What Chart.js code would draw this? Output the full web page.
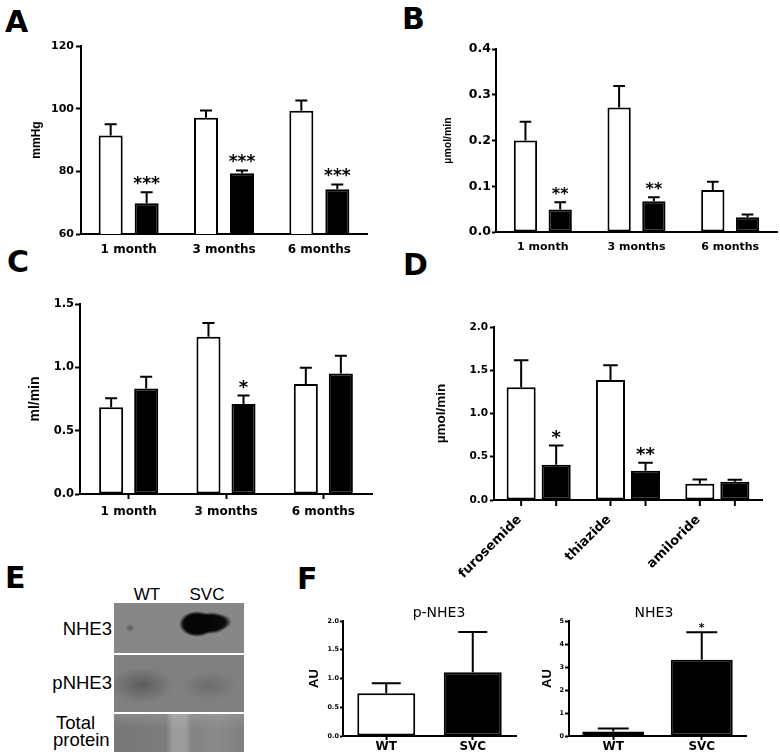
<!DOCTYPE html>
<html>
<head>
<meta charset="utf-8">
<script src="https://cdn.jsdelivr.net/npm/chart.js@4.4.1/dist/chart.umd.min.js"></script>
<style>
body{margin:0;background:#fff;}
#fig{position:relative;width:780px;height:756px;overflow:hidden;}
canvas{position:absolute;}
.letter{position:absolute;font:bold 30px "DejaVu Sans";line-height:30px;color:#000;}
.lbl{position:absolute;font:18.5px "Liberation Sans";line-height:18.5px;color:#000;white-space:nowrap;}
.lane{position:absolute;font:17px "Liberation Sans";line-height:17px;width:60px;text-align:center;}
.ftitle{position:absolute;font:14px "DejaVu Sans";line-height:14px;width:120px;text-align:center;}
.strip{position:absolute;left:114px;width:130px;}
</style>
</head>
<body>
<div id="fig">
  <div class="letter" style="left:5px;top:7px">A</div>
  <div class="letter" style="left:402px;top:4px">B</div>
  <div class="letter" style="left:7px;top:247px">C</div>
  <div class="letter" style="left:403px;top:250px">D</div>
  <div class="letter" style="left:5px;top:563px">E</div>
  <div class="letter" style="left:297px;top:564px">F</div>

  <canvas id="chartA" width="380" height="270" style="left:0;top:0"></canvas>
  <canvas id="chartB" width="390" height="270" style="left:390px;top:0"></canvas>
  <canvas id="chartC" width="385" height="270" style="left:0;top:260px"></canvas>
  <canvas id="chartD" width="390" height="330" style="left:390px;top:260px"></canvas>
  <canvas id="chartF1" width="225" height="161" style="left:300px;top:595px"></canvas>
  <canvas id="chartF2" width="250" height="161" style="left:530px;top:595px"></canvas>

  <!-- western blot (E) -->
  <div class="lane" style="left:117px;top:586px">WT</div>
  <div class="lane" style="left:177px;top:586px">SVC</div>
  <div class="lbl" style="left:0;width:112px;text-align:right;top:620px">NHE3</div>
  <div class="lbl" style="left:0;width:112px;text-align:right;top:674px">pNHE3</div>
  <div class="lbl" style="left:56px;top:714px">Total</div>
  <div class="lbl" style="left:53px;top:731px">protein</div>
  <div class="strip" style="top:603px;height:50px;background:
    radial-gradient(ellipse 18px 13px at 83px 21px, #050505 75%, rgba(5,5,5,0) 100%),
    radial-gradient(ellipse 17px 11px at 97px 20px, #080808 70%, rgba(8,8,8,0) 100%),
    radial-gradient(ellipse 12px 8px at 106px 19px, #1a1a1a 50%, rgba(26,26,26,0) 100%),
    radial-gradient(ellipse 5px 4px at 16px 25px, rgba(55,55,55,.6), rgba(55,55,55,0)),
    #878787;"></div>
  <div class="strip" style="top:655px;height:57px;background:
    radial-gradient(ellipse 32px 18px at 28px 30px, rgba(50,50,50,.45), rgba(50,50,50,0)),
    radial-gradient(ellipse 28px 14px at 95px 31px, rgba(60,60,60,.3), rgba(60,60,60,0)),
    #808080;"></div>
  <div class="strip" style="top:714px;height:38px;background:
    linear-gradient(to bottom, rgba(255,255,255,.12), rgba(255,255,255,0) 40%),
    linear-gradient(to right, #767676 0, #7c7c7c 40%, #9c9c9c 45%, #9c9c9c 55%, #838383 60%, #8a8a8a 80%, #7e7e7e 100%);"></div>
</div>

<script>
// A: blood pressure by age
const monthLabels = ['1 month', '3 months', '6 months'];
const pressureTicks = ['60', '80', '100', '120'];
const pressureWT = [91.4, 97.1, 99.3];
const pressureWTerr = [3.6, 2.3, 3.3];
const pressureSVC = [69.8, 79.4, 74.3];
const pressureSVCerr = [3.5, 0.9, 1.5];
const pressureStars = ['***', '***', '***'];

// B
const sodiumTicks = ['0.0', '0.1', '0.2', '0.3', '0.4'];
const sodiumWT = [0.200, 0.272, 0.092];
const sodiumWTerr = [0.041, 0.047, 0.018];
const sodiumSVC = [0.049, 0.067, 0.032];
const sodiumSVCerr = [0.016, 0.009, 0.006];
const sodiumStars = ['**', '**', ''];

// C
const flowTicks = ['0.0', '0.5', '1.0', '1.5'];
const flowWT = [0.685, 1.242, 0.869];
const flowWTerr = [0.071, 0.108, 0.127];
const flowSVC = [0.832, 0.711, 0.951];
const flowSVCerr = [0.093, 0.066, 0.140];
const flowStars = ['', '*', ''];

// D
const diureticLabels = ['furosemide', 'thiazide', 'amiloride'];
const diureticTicks = ['0.0', '0.5', '1.0', '1.5', '2.0'];
const diureticWT = [1.304, 1.388, 0.188];
const diureticWTerr = [0.311, 0.169, 0.050];
const diureticSVC = [0.407, 0.338, 0.211];
const diureticSVCerr = [0.223, 0.092, 0.023];
const diureticStars = ['*', '**', ''];

// F
const groupLabels = ['WT', 'SVC'];
const pNheTicks = ['0.0', '0.5', '1.0', '1.5', '2.0'];
const pNhe = [0.742, 1.108];
const pNheErr = [0.174, 0.702];
const pNheStars = ['', ''];
const nheTicks = ['0', '1', '2', '3', '4', '5'];
const nhe = [0.20, 3.32];
const nheErr = [0.13, 1.19];
const nheStars = ['', '*'];

const BOLD = 'bold';

// upper SEM bars, stars and (optional) tick marks under each bar
const errorBars = {
  id: 'errorBars',
  afterDatasetsDraw(chart, args, opts) {
    const ctx = chart.ctx;
    const y = chart.scales.y;
    ctx.save();
    ctx.strokeStyle = '#000';
    ctx.fillStyle = '#000';
    ctx.lineWidth = 2;
    chart.data.datasets.forEach((ds, i) => {
      chart.getDatasetMeta(i).data.forEach((bar, j) => {
        const top = y.getPixelForValue(ds.data[j] + ds.errors[j]);
        const half = bar.width / 4;
        ctx.beginPath();
        ctx.moveTo(bar.x, bar.y);
        ctx.lineTo(bar.x, top);
        ctx.moveTo(bar.x - half, top);
        ctx.lineTo(bar.x + half, top);
        ctx.stroke();
        if (opts.barTicks) {
          ctx.beginPath();
          ctx.moveTo(bar.x, chart.chartArea.bottom);
          ctx.lineTo(bar.x, chart.chartArea.bottom + opts.barTicks);
          ctx.stroke();
        }
        if (ds.stars && ds.stars[j]) {
          ctx.font = 'bold ' + opts.starSize + 'px "DejaVu Sans"';
          ctx.textAlign = 'center';
          ctx.textBaseline = 'alphabetic';
          ctx.fillText(ds.stars[j], bar.x, top - opts.starGap);
        }
      });
    });
    ctx.restore();
  }
};

function pair(wt, wtErr, svc, svcErr, stars, cp, bp) {
  const base = {borderColor: '#000', borderWidth: 2, borderSkipped: false, categoryPercentage: cp, barPercentage: bp};
  return [
    Object.assign({label: 'WT', data: wt, errors: wtErr, backgroundColor: '#fff'}, base),
    Object.assign({label: 'SVC', data: svc, errors: svcErr, stars: stars, backgroundColor: '#000'}, base)
  ];
}

function barChart(id, c) {
  const yt = c.yTicks;
  return new Chart(document.getElementById(id), {
    type: 'bar',
    data: {labels: c.labels, datasets: c.datasets},
    plugins: [errorBars],
    options: {
      responsive: false,
      animation: false,
      layout: {padding: {top: c.padTop, right: c.padRight, left: 0, bottom: 0}},
      plugins: {
        legend: {display: false},
        tooltip: {enabled: false},
        errorBars: {starSize: c.starSize, starGap: c.starGap, barTicks: c.barTicks || 0}
      },
      scales: {
        x: {
          afterFit: s => { s.height = c.xHeight; },
          border: {display: true, color: '#000', width: 2},
          grid: {display: true, drawOnChartArea: false, offset: false, drawTicks: c.xTick > 0,
                 tickLength: c.xTick, tickWidth: 2, tickColor: '#000'},
          ticks: {color: '#000', padding: c.xPad, autoSkip: false,
                  maxRotation: c.xRot || 0, minRotation: c.xRot || 0, labelOffset: c.xOffset || 0,
                  font: {family: 'DejaVu Sans', weight: BOLD, size: c.xSize}}
        },
        y: {
          min: parseFloat(yt[0]),
          max: parseFloat(yt[yt.length - 1]),
          afterBuildTicks: s => { s.ticks = yt.map(t => ({value: parseFloat(t)})); },
          afterFit: s => { s.width = c.yWidth; },
          border: {display: true, color: '#000', width: 2},
          grid: {drawOnChartArea: false, drawTicks: true, tickLength: c.yTick, tickWidth: 2, tickColor: '#000'},
          ticks: {color: '#000', padding: c.yPad, autoSkip: false,
                  font: {family: 'DejaVu Sans', weight: BOLD, size: c.ySize},
                  callback: (v, i) => yt[i]},
          title: {display: true, text: c.yTitle, color: '#000', padding: {top: c.titlePad, bottom: 0},
                  font: {family: 'Liberation Sans', weight: BOLD, size: c.titleSize}}
        }
      }
    }
  });
}

barChart('chartA', {
  labels: monthLabels,
  datasets: pair(pressureWT, pressureWTerr, pressureSVC, pressureSVCerr, pressureStars, 0.755, 0.667),
  yTicks: pressureTicks, yTitle: 'mmHg',
  padTop: 46, padRight: 13, yWidth: 81, xHeight: 36,
  yTick: 5, yPad: 2, ySize: 11, titleSize: 12, titlePad: 29.8,
  xTick: 0, xPad: 9, xSize: 12,
  starSize: 17, starGap: 3
});

barChart('chartB', {
  labels: monthLabels,
  datasets: pair(sodiumWT, sodiumWTerr, sodiumSVC, sodiumSVCerr, sodiumStars, 0.742, 0.67),
  yTicks: sodiumTicks, yTitle: 'µmol/min',
  padTop: 49, padRight: 3, yWidth: 106, xHeight: 38,
  yTick: 4, yPad: 1, ySize: 12.5, titleSize: 10.5, titlePad: 51.7,
  xTick: 0, xPad: 9, xSize: 11,
  starSize: 16, starGap: 3
});

barChart('chartC', {
  labels: monthLabels,
  datasets: pair(flowWT, flowWTerr, flowSVC, flowSVCerr, flowStars, 0.72, 0.686),
  yTicks: flowTicks, yTitle: 'ml/min',
  padTop: 44, padRight: 13, yWidth: 80, xHeight: 36,
  yTick: 5, yPad: 1, ySize: 11.5, titleSize: 14, titlePad: 26.5,
  xTick: 5, xPad: 6, xSize: 12,
  starSize: 18, starGap: 3
});

barChart('chartD', {
  labels: diureticLabels,
  datasets: pair(diureticWT, diureticWTerr, diureticSVC, diureticSVCerr, diureticStars, 0.784, 0.83),
  yTicks: diureticTicks, yTitle: 'µmol/min',
  padTop: 67, padRight: 18, yWidth: 104, xHeight: 90,
  yTick: 4, yPad: 2, ySize: 10.5, titleSize: 13.5, titlePad: 43,
  xTick: 0, xPad: 12, xSize: 13, xRot: 45, xOffset: -19, barTicks: 6,
  starSize: 18, starGap: 3
});

barChart('chartF1', {
  labels: groupLabels,
  datasets: [{label: 'p-NHE3', data: pNhe, errors: pNheErr, stars: pNheStars,
              backgroundColor: ['#fff', '#000'], borderColor: '#000', borderWidth: 2, borderSkipped: false,
              categoryPercentage: 1, barPercentage: 0.67}],
  yTicks: pNheTicks, yTitle: 'AU',
  padTop: 26, padRight: 9, yWidth: 43, xHeight: 20,
  yTick: 3, yPad: 1, ySize: 6.5, titleSize: 13, titlePad: 7,
  xTick: 4, xPad: 0, xSize: 12,
  starSize: 11, starGap: 1
});

barChart('chartF2', {
  labels: groupLabels,
  datasets: [{label: 'NHE3', data: nhe, errors: nheErr, stars: nheStars,
              backgroundColor: ['#fff', '#000'], borderColor: '#000', borderWidth: 2, borderSkipped: false,
              categoryPercentage: 1, barPercentage: 0.7}],
  yTicks: nheTicks, yTitle: 'AU',
  padTop: 26, padRight: 34, yWidth: 39, xHeight: 20,
  yTick: 4, yPad: 1, ySize: 6.5, titleSize: 13, titlePad: 10,
  xTick: 4, xPad: 0, xSize: 12,
  starSize: 11, starGap: 1
});
</script>
<div class="ftitle" style="left:379px;top:605px;position:absolute">p-NHE3</div>
<div class="ftitle" style="left:594px;top:605px;position:absolute">NHE3</div>
</body>
</html>
